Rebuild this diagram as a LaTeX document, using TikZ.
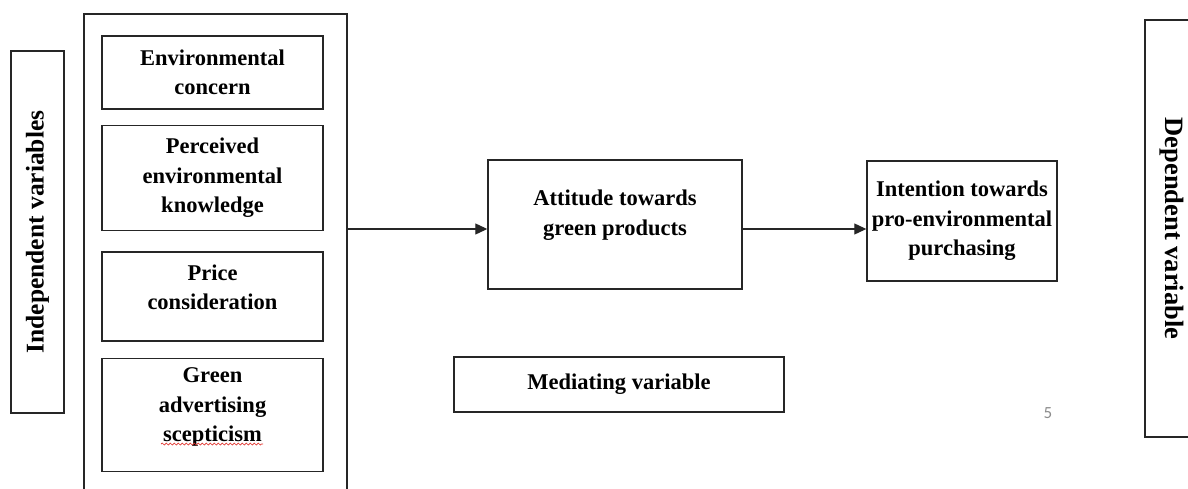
\documentclass[tikz,border=0pt]{standalone}
\usepackage{fontspec}
\setmainfont{Liberation Serif}
\newfontfamily\pagenumfont{Carlito}
\usepackage{tikz}
\usetikzlibrary{arrows.meta,positioning,decorations.pathmorphing}
\definecolor{cmink}{HTML}{262626}
\definecolor{cmgray}{HTML}{8C8C8C}
\definecolor{cmred}{HTML}{E0302A}
\tikzset{
  cmbox/.style={draw=cmink, line width=1.4pt, fill=white, align=center, inner sep=0pt,
    font=\bfseries\fontsize{22.5}{29.5}\selectfont},
  cmitem/.style={cmbox, minimum width=221pt},
  cmside/.style={draw=cmink, line width=1.4pt, inner sep=0pt,
    font=\bfseries\fontsize{25.5}{30}\selectfont},
  cmarrow/.style={-{Triangle[length=12pt,width=11pt]}, line width=1.1pt, draw=cmink}
}
\begin{document}
\begin{tikzpicture}[x=1pt, y=-1pt]
\clip (0,0) rectangle (1188,489);
\fill[white] (0,0) rectangle (1188,489);
% side labels
\node[cmside, rotate=90, minimum width=362pt, minimum height=53pt] (indep) at (37.5,232) {Independent variables};
\node[cmside, rotate=-90, minimum width=417pt, minimum height=54pt, font=\bfseries\fontsize{26.5}{30}\selectfont] (dep) at (1172,228.5) {Dependent variable};
% independent variables
\node[draw=cmink, line width=1.4pt, minimum width=263pt, minimum height=490pt] (outer) at (215.5,259) {};
\node[cmitem, minimum height=73pt] (envcon) at (212.5,72.5) {Environmental\\concern};
\node[cmitem, minimum height=105pt, below=15pt of envcon] (knowledge) {Perceived\\environmental\\knowledge};
\node[cmitem, minimum height=89pt, below=20pt of knowledge, text depth=18pt] (price) {Price\\consideration};
\node[cmitem, minimum height=113pt, below=16pt of price, text depth=20pt] (scepticism) {Green\\advertising\\scepticism};
\draw[cmred, line width=0.7pt, decorate, decoration={snake, amplitude=1pt, segment length=4pt}]
  (161,444) -- (263,444);
% mediator and outcome
\node[cmbox, minimum width=254pt, minimum height=129pt, text depth=24pt] (attitude) at (615,224.5) {Attitude towards\\green products};
\node[cmbox, minimum width=190pt, minimum height=120pt] (intention) at (962,221) {Intention towards\\pro-environmental\\purchasing};
\node[cmbox, minimum width=330pt, minimum height=55pt] (mediating) at (619,384.5) {Mediating variable};
\node[font=\pagenumfont\fontsize{17}{17}\selectfont, text=cmgray] (pagenum) at (1048,413) {5};
\coordinate (cmtap) at (0,229);
\draw[cmarrow] (outer.east |- cmtap) -- (attitude.west |- cmtap);
\draw[cmarrow] (attitude.east |- cmtap) -- (intention.west |- cmtap);
\end{tikzpicture}
\end{document}
